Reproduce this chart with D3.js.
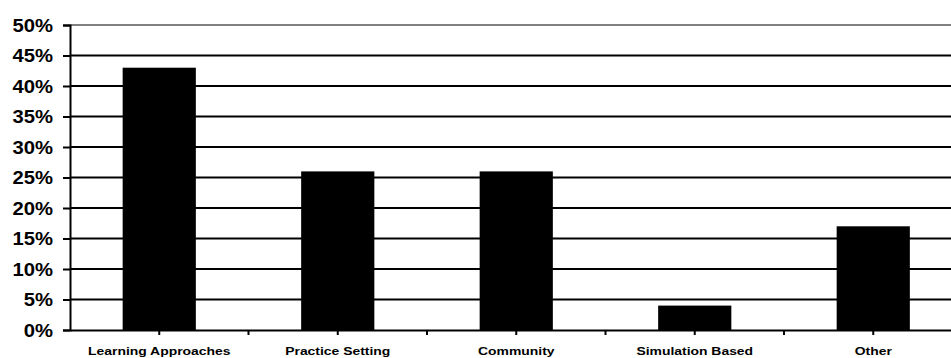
<!DOCTYPE html>
<html>
<head>
<meta charset="utf-8">
<script src="https://cdn.jsdelivr.net/npm/d3@7/dist/d3.min.js"></script>
<style>
  html, body { margin: 0; padding: 0; background: #fff; }
  svg { display: block; }
  text { font-family: "Liberation Sans", Arial, sans-serif; font-weight: bold; fill: #000; }
</style>
</head>
<body>
<svg id="chart" width="951" height="358"></svg>
<script>
// Share of responses by category (percent)
const categories = ["Learning Approaches", "Practice Setting", "Community", "Simulation Based", "Other"];
const values = [43, 26, 26, 4, 17];
const yTicks = [0, 5, 10, 15, 20, 25, 30, 35, 40, 45, 50];

const svg = d3.select("#chart");
const plotLeft = 70, plotRight = 962.5, plotTop = 25, plotBottom = 330;

const x = d3.scaleBand()
  .domain(categories)
  .range([plotLeft, plotRight])
  .paddingInner(0.59)
  .paddingOuter(0.295);

const y = d3.scaleLinear().domain([0, 50]).range([plotBottom, plotTop]);

// Horizontal gridlines
svg.append("g")
  .selectAll("line")
  .data(yTicks.filter(d => d > 0))
  .join("line")
  .attr("x1", plotLeft).attr("x2", 951)
  .attr("y1", d => y(d)).attr("y2", d => y(d))
  .attr("stroke", d => d === 50 ? "#808080" : "#000")
  .attr("stroke-width", 2);

// Bars
svg.append("g")
  .selectAll("rect")
  .data(categories)
  .join("rect")
  .attr("x", d => x(d))
  .attr("width", x.bandwidth())
  .attr("y", (d, i) => y(values[i]))
  .attr("height", (d, i) => y(0) - y(values[i]))
  .attr("fill", "#000");

// Y axis
const yAxis = svg.append("g")
  .attr("transform", `translate(${plotLeft},0)`)
  .call(d3.axisLeft(y).tickValues(yTicks).tickSize(7).tickFormat(d => d + "%"));
yAxis.select(".domain").attr("stroke", "#000").attr("stroke-width", 2);
yAxis.selectAll(".tick line").attr("stroke", "#000").attr("stroke-width", 2);
yAxis.selectAll(".tick text").remove();
yAxis.selectAll(".tick")
  .append("g")
  .attr("transform", "translate(-17,0) scale(1.15,1)")
  .append("text")
  .attr("text-anchor", "end")
  .attr("dy", "0.36em")
  .attr("font-size", 17.6)
  .text(d => d + "%");

// X axis: ticks at category centres and at band boundaries
const xAxis = svg.append("g")
  .attr("transform", `translate(0,${plotBottom})`)
  .call(d3.axisBottom(x).tickSize(5).tickSizeOuter(0));
xAxis.select(".domain").attr("stroke", "#000").attr("stroke-width", 2);
xAxis.selectAll(".tick line").attr("stroke", "#000").attr("stroke-width", 2);
xAxis.selectAll(".tick text").remove();
xAxis.selectAll(".tick")
  .append("g")
  .attr("transform", "translate(0,25) scale(1.18,1)")
  .append("text")
  .attr("text-anchor", "middle")
  .attr("font-size", 11.8)
  .text(d => d);

const step = x.step();
xAxis.append("g")
  .selectAll("line")
  .data(d3.range(1, categories.length + 1))
  .join("line")
  .attr("x1", i => plotLeft + i * step).attr("x2", i => plotLeft + i * step)
  .attr("y1", 0).attr("y2", 5)
  .attr("stroke", "#000").attr("stroke-width", 2);
</script>
</body>
</html>
